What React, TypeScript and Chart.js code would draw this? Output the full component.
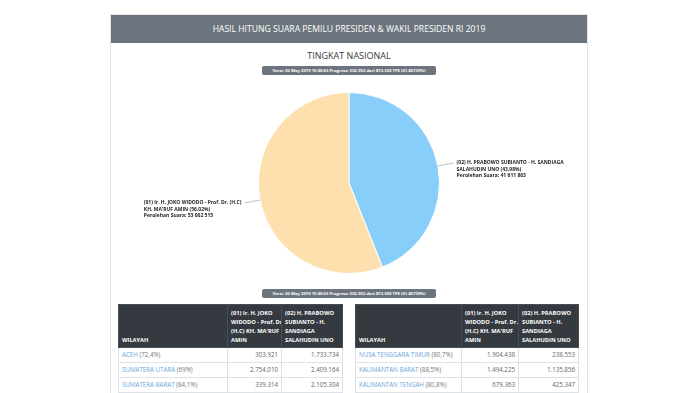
import React, { useEffect, useRef } from "react";
import { Chart, registerables } from "chart.js";

Chart.register(...registerables);

const pageTitle = "HASIL HITUNG SUARA PEMILU PRESIDEN & WAKIL PRESIDEN RI 2019";
const subTitle = "TINGKAT NASIONAL";
const versionText = "Versi: 02 May 2019 15:00:03 Progress: 502.932 dari 813.350 TPS (61.83739%)";

const pieNames = [
  ["(02) H. PRABOWO SUBIANTO - H. SANDIAGA", "SALAHUDIN UNO"],
  ["(01) Ir. H. JOKO WIDODO - Prof. Dr. (H.C)", "KH. MA'RUF AMIN"],
];
const pieVotes = [41611863, 53002515];
const pieColors = ["#87CEFA", "#FEDFAE"];

const headerCol1 = "WILAYAH";
const headerCol2 = ["(01) Ir. H. JOKO", "WIDODO - Prof. Dr.", "(H.C) KH. MA'RUF", "AMIN"];
const headerCol3 = ["(02) H. PRABOWO", "SUBIANTO - H.", "SANDIAGA", "SALAHUDIN UNO"];

const leftRegions = ["ACEH", "SUMATERA UTARA", "SUMATERA BARAT", "RIAU"];
const leftProgress = ["72,4%", "69%", "84,1%", "70,7%"];
const leftVotes01 = [303921, 2754010, 339314, 977000];
const leftVotes02 = [1733734, 2409164, 2105304, 1325000];

const rightRegions = ["NUSA TENGGARA TIMUR", "KALIMANTAN BARAT", "KALIMANTAN TENGAH", "KALIMANTAN SELATAN"];
const rightProgress = ["80,7%", "88,5%", "80,8%", "73,3%"];
const rightVotes01 = [1904438, 1494225, 679363, 510000];
const rightVotes02 = [238553, 1135856, 425347, 780000];

const FONT = "'Open Sans', 'Noto Sans', sans-serif";

function fmtDot(n: number) {
  return String(n).replace(/\B(?=(\d{3})+(?!\d))/g, ".");
}
function fmtSpace(n: number) {
  return String(n).replace(/\B(?=(\d{3})+(?!\d))/g, " ");
}

const labelPlugin = {
  id: "outLabels",
  afterDatasetsDraw(chart: any) {
    const ctx = chart.ctx;
    const meta = chart.getDatasetMeta(0);
    const data = chart.data.datasets[0].data as number[];
    const total = data.reduce((a: number, b: number) => a + b, 0);
    meta.data.forEach((arc: any, i: number) => {
      const p = arc.getProps(["x", "y", "startAngle", "endAngle", "outerRadius"], true);
      const mid = (p.startAngle + p.endAngle) / 2;
      const c = Math.cos(mid), s = Math.sin(mid);
      const x1 = p.x + c * p.outerRadius;
      const y1 = p.y + s * p.outerRadius;
      const x2 = p.x + c * (p.outerRadius + 16);
      const y2 = p.y + s * (p.outerRadius + 16);
      ctx.save();
      ctx.strokeStyle = "#b9c6cf";
      ctx.lineWidth = 1;
      ctx.beginPath();
      ctx.moveTo(x1, y1);
      ctx.lineTo(x2, y2);
      ctx.stroke();
      const lines = [
        pieNames[i][0],
        pieNames[i][1] + " (" + ((data[i] / total) * 100).toFixed(2) + "%)",
        "Perolehan Suara: " + fmtSpace(data[i]),
      ];
      ctx.font = "bold 5px " + FONT;
      ctx.fillStyle = "#1e1e1e";
      ctx.textBaseline = "middle";
      ctx.textAlign = "left";
      const w = Math.max(...lines.map((l) => ctx.measureText(l).width));
      const left = c >= 0 ? x2 + 3 : x2 - 3 - w;
      lines.forEach((l, k) => ctx.fillText(l, left, y2 + k * 6.5));
      ctx.restore();
    });
  },
};

function Badge({ top }: { top: number }) {
  return (
    <div
      style={{
        position: "absolute",
        left: 262,
        top,
        width: 174,
        height: 9,
        background: "#6c757d",
        borderRadius: 2,
        color: "#fff",
        fontFamily: FONT,
        fontWeight: 700,
        fontSize: 4.2,
        lineHeight: "9px",
        textAlign: "center",
        whiteSpace: "nowrap",
      }}
    >
      {versionText}
    </div>
  );
}

function DataTable({
  left,
  width,
  cols,
  regions,
  progress,
  v1,
  v2,
}: {
  left: number;
  width: number;
  cols: number[];
  regions: string[];
  progress: string[];
  v1: number[];
  v2: number[];
}) {
  const th: React.CSSProperties = {
    background: "#343a40",
    color: "#fff",
    fontWeight: 700,
    fontSize: 5.7,
    lineHeight: "9px",
    textAlign: "left",
    verticalAlign: "bottom",
    padding: "4px 2px 2px 3px",
    border: "1px solid #454d55",
    whiteSpace: "nowrap",
    overflow: "hidden",
  };
  const td: React.CSSProperties = {
    fontSize: 6.2,
    lineHeight: "8px",
    padding: "3px 3px",
    border: "1px solid #dee2e6",
    color: "#666",
    whiteSpace: "nowrap",
    overflow: "hidden",
  };
  return (
    <table
      style={{
        position: "absolute",
        left,
        top: 304,
        width,
        borderCollapse: "collapse",
        tableLayout: "fixed",
        fontFamily: FONT,
      }}
    >
      <colgroup>
        {cols.map((c, i) => (
          <col key={i} style={{ width: c }} />
        ))}
      </colgroup>
      <thead>
        <tr>
          <th style={th}>{headerCol1}</th>
          <th style={th}>
            {headerCol2.map((l, i) => (
              <div key={i}>{l}</div>
            ))}
          </th>
          <th style={th}>
            {headerCol3.map((l, i) => (
              <div key={i}>{l}</div>
            ))}
          </th>
        </tr>
      </thead>
      <tbody>
        {regions.map((r, i) => (
          <tr key={r}>
            <td style={td}>
              <span style={{ color: "#6aa6d8" }}>{r}</span>
              <span style={{ color: "#777" }}>{"  (" + progress[i] + ")"}</span>
            </td>
            <td style={{ ...td, textAlign: "right" }}>{fmtDot(v1[i])}</td>
            <td style={{ ...td, textAlign: "right" }}>{fmtDot(v2[i])}</td>
          </tr>
        ))}
      </tbody>
    </table>
  );
}

export default function App() {
  const canvasRef = useRef<HTMLCanvasElement>(null);
  useEffect(() => {
    if (!canvasRef.current) return;
    const chart = new Chart(canvasRef.current, {
      type: "pie",
      data: {
        labels: pieNames.map((n) => n.join(" ")),
        datasets: [
          {
            data: pieVotes,
            backgroundColor: pieColors,
            borderColor: "#ffffff",
            borderWidth: 1,
          },
        ],
      },
      options: {
        animation: false,
        responsive: false,
        maintainAspectRatio: false,
        layout: { padding: { top: 12, bottom: 14, left: 0, right: 0 } },
        plugins: {
          legend: { display: false },
          tooltip: { enabled: false },
        },
      },
      plugins: [labelPlugin],
    });
    return () => chart.destroy();
  }, []);

  return (
    <div
      style={{
        position: "fixed",
        left: 0,
        top: 0,
        width: 700,
        height: 393,
        background: "#fff",
        overflow: "hidden",
        fontFamily: FONT,
      }}
    >
      <div
        style={{
          position: "absolute",
          left: 110,
          top: 14,
          width: 476,
          height: 400,
          border: "1px solid #e2e5e8",
        }}
      />
      <div
        style={{
          position: "absolute",
          left: 111,
          top: 15,
          width: 476,
          height: 28,
          background: "#6c757d",
          color: "#fff",
          fontSize: 8.6,
          lineHeight: "28px",
          textAlign: "center",
          whiteSpace: "nowrap",
        }}
      >
        {pageTitle}
      </div>
      <div
        style={{
          position: "absolute",
          left: 111,
          top: 49,
          width: 476,
          color: "#3a3a3a",
          fontSize: 9,
          lineHeight: "14px",
          textAlign: "center",
        }}
      >
        {subTitle}
      </div>
      <Badge top={66} />
      <canvas
        ref={canvasRef}
        width={462}
        height={208}
        style={{ position: "absolute", left: 118, top: 80, width: 462, height: 208 }}
      />
      <Badge top={289} />
      <DataTable
        left={118}
        width={224}
        cols={[109, 54, 61]}
        regions={leftRegions}
        progress={leftProgress}
        v1={leftVotes01}
        v2={leftVotes02}
      />
      <DataTable
        left={355}
        width={223}
        cols={[106, 57, 60]}
        regions={rightRegions}
        progress={rightProgress}
        v1={rightVotes01}
        v2={rightVotes02}
      />
    </div>
  );
}
